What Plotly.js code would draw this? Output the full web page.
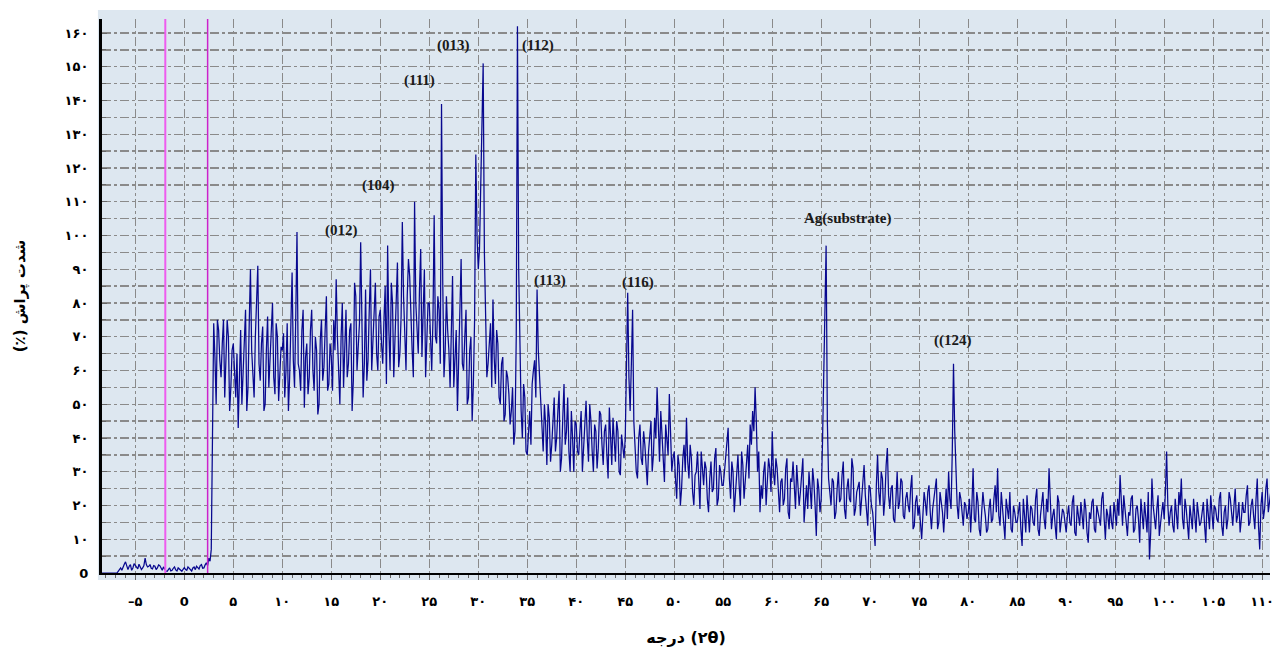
<!DOCTYPE html>
<html>
<head>
<meta charset="utf-8">
<script src="https://cdn.plot.ly/plotly-3.0.1.min.js"></script>
<style>html,body{margin:0;padding:0;background:#fff;}#chart{width:1279px;height:652px;}</style>
</head>
<body>
<div id="chart"></div>
<script>
// Scan grid: 2θ start and step (degrees); each step also has a half-step reading
const twoThetaStart = -8.5;
const twoThetaStep = 0.25;

// Intensity (%) at the full steps, one line per 5° block
const intensity = [
  /* -8.5 .. -5.25 */ 0,0,0,0,0,0,0,0.5,1.5,2,3.3,1,2.5,1.5,
  /* -5 */ 2.2,1.2,2,1.5,4.4,1.8,2.5,1.2,2,1.5,2.2,0.8,1.2,0.5,1.5,0.8,1.8,0.6,1.2,0.5,
  /* 0 */ 1.6,0.8,1.4,0.6,1.8,2,1.2,2.5,1.5,3,4.4,7,74,50,72,58,75,62,70,55,
  /* 5 */ 68,52,43,72,58,78,55,90,60,70,91,57,73,50,76,62,80,53,70,60,
  /* 10 */ 66,52,74,58,89,55,101,60,72,49,68,58,78,54,66,50,75,61,82,56,
  /* 15 */ 64,75,87,58,70,55,78,62,74,57,82,66,98,52,84,63,90,70,86,60,
  /* 20 */ 78,62,85,97,60,80,68,92,65,104,70,82,88,66,110,72,84,64,90,70,
  /* 25 */ 80,60,106,68,78,139,58,82,66,76,55,72,62,93,60,78,52,70,56,124,
  /* 30 */ 90,112,151,70,62,74,81,56,68,50,64,47,58,44,55,42,162,68,40,52,
  /* 35 */ 35,48,56,63,84,58,42,50,32,46,38,52,40,54,34,56,42,36,48,30,
  /* 40 */ 44,35,48,38,51,33,45,30,42,37,47,32,44,28,40,46,33,42,29,38,
  /* 45 */ 40,83,48,78,35,28,44,32,38,26,42,30,46,55,33,40,27,38,53,30,
  /* 50 */ 36,22,32,25,38,46,28,34,20,30,24,36,26,31,18,33,25,37,22,30,
  /* 55 */ 26,34,43,22,30,24,35,20,32,27,38,44,48,55,30,18,22,33,26,31,
  /* 60 */ 42,26,31,18,28,22,34,16,27,23,32,20,29,15,26,30,19,27,11,25,
  /* 65 */ 22,55,97,28,20,27,18,30,22,33,16,28,21,31,19,26,17,29,23,14,
  /* 70 */ 25,18,8,35,20,28,22,37,19,26,15,30,21,27,16,24,18,29,14,23,
  /* 75 */ 20,10,24,17,26,13,22,28,15,21,12,25,30,19,62,28,16,22,14,20,
  /* 80 */ 18,12,31,15,21,11,24,17,13,22,16,26,31,14,20,10,19,24,12,18,
  /* 85 */ 15,21,8,17,23,12,19,14,25,11,20,16,22,31,13,19,10,21,15,18,
  /* 90 */ 12,20,14,23,11,17,21,13,19,9,16,22,12,18,14,24,10,17,20,13,
  /* 95 */ 18,22,29,14,19,11,17,23,13,20,9,16,21,12,4,28,15,19,11,18,
  /* 100 */ 16,36,14,20,12,18,24,28,13,19,10,17,22,12,18,15,21,9,17,23,
  /* 105 */ 13,19,15,24,11,20,16,22,14,25,17,12,21,18,26,15,22,13,28,7,
  /* 110 */ 24,19,28,22
];

// Intensity (%) at the half steps (2θ + 0.125°), same block layout
const intensityHalf = [
  /* -8.375 .. -5.125 */ 0,0,0,0,0,0,0,1,0.8,2.6,1.8,2,0.8,2.8,
  /* -4.875 */ 1.8,2.6,1,2.2,2.5,2,1.4,2.2,1,2.4,1.4,1.8,0.6,1.2,0.6,1.4,0.9,1.5,0.7,1.1,
  /* 0.125 */ 1,1.8,0.7,1.5,1,1.6,2.2,1.4,2.4,2.2,3.5,40,64,75,63,68,52,75,48,66,
  /* 5.125 */ 60,65,58,50,70,48,74,66,52,80,62,68,48,66,55,70,58,74,51,67,
  /* 10.125 */ 71,60,48,70,63,76,62,54,78,64,53,72,60,70,47,69,57,72,54,68,
  /* 15.125 */ 54,66,70,50,80,67,58,72,48,86,60,74,70,62,57,78,60,82,65,76,
  /* 20.125 */ 68,75,56,72,86,58,78,61,76,82,60,93,74,58,80,65,96,74,58,80,
  /* 25.125 */ 66,75,70,82,62,86,66,72,55,88,64,48,80,62,70,50,66,45,75,100,
  /* 30.125 */ 96,128,95,58,70,55,64,72,52,62,45,60,53,48,38,70,90,48,56,36,
  /* 35.125 */ 42,38,60,52,66,48,36,44,50,33,45,36,48,30,46,38,52,30,40,45,
  /* 40.125 */ 36,42,30,46,40,50,36,44,31,48,38,42,35,49,32,37,45,30,41,34,
  /* 45.125 */ 60,58,62,45,30,40,34,42,30,36,45,35,40,42,48,32,44,35,40,34,
  /* 50.125 */ 28,35,20,34,30,33,38,24,29,36,19,30,33,22,28,24,34,20,32,26,
  /* 55.125 */ 30,38,28,33,18,29,26,36,22,33,28,38,42,45,36,26,30,20,34,24,
  /* 60.125 */ 30,34,22,27,20,31,18,28,33,19,26,24,34,22,19,25,31,20,28,18,
  /* 65.125 */ 38,75,45,24,28,16,25,21,29,19,25,22,34,17,24,27,22,32,18,26,
  /* 70.125 */ 20,13,26,24,30,17,32,23,25,16,22,19,28,17,22,20,25,13,21,17,
  /* 75.125 */ 15,17,21,24,18,19,25,13,24,18,20,16,22,36,42,20,24,17,21,16,
  /* 80.125 */ 22,20,16,24,13,18,20,12,19,15,22,18,17,24,14,22,16,13,20,15,
  /* 85.125 */ 19,13,22,12,18,20,15,22,13,17,24,13,18,21,17,14,23,12,19,14,
  /* 90.125 */ 17,15,21,12,20,14,16,22,12,18,21,13,20,15,22,16,19,13,15,21,
  /* 95.125 */ 14,17,20,23,13,18,22,12,19,16,22,13,15,24,12,20,13,23,16,21,
  /* 100.125 */ 24,20,18,14,22,13,20,16,22,14,20,13,18,21,14,19,14,22,13,19,
  /* 105.125 */ 20,16,22,14,18,13,24,18,20,15,21,16,18,23,14,20,17,22,14,20,
  /* 110.125 */ 16,25,18,24
];

// Peak labels
const peakLabels = ['(012)','(104)','(111)','(013)','(112)','(113)','(116)','Ag(substrate)','((124)'];
const peakX = [16.0, 19.8, 24.0, 27.45, 36.1, 37.35, 46.3, 67.75, 78.4];
const peakY = [101.6, 114.7, 145.8, 156.4, 156.4, 86.8, 86.2, 104.9, 69.0];

// Vertical marker lines (2θ)
const markerLines = [-1.94, 2.38];
const markerColors = ['#ee5cee', '#cc22cc'];

// Tick labels (Persian digits)
const xTickAlias = {'-5':'\u2013۵','\u22125':'\u2013۵','0':'0','5':'۵','10':'۱۰','15':'۱۵','20':'۲۰','25':'۲۵','30':'۳۰','35':'۳۵','40':'۴۰','45':'۴۵','50':'۵۰','55':'۵۵','60':'۶۰','65':'۶۵','70':'۷۰','75':'۷۵','80':'۸۰','85':'۸۵','90':'۹۰','95':'۹۵','100':'۱۰۰','105':'۱۰۵','110':'۱۱۰'};
const yTickAlias = {'0':'0','10':'۱۰','20':'۲۰','30':'۳۰','40':'۴۰','50':'۵۰','60':'۶۰','70':'۷۰','80':'۸۰','90':'۹۰','100':'۱۰۰','110':'۱۱۰','120':'۱۲۰','130':'۱۳۰','140':'۱۴۰','150':'۱۵۰','160':'۱۶۰'};

const xTitle = 'درجه (۲θ)';
const yTitle = '\u200Fشدت پراش (٪)\u200F';

// Merge full and half steps into one ordered scan
const twoTheta = [], counts = [];
intensity.forEach((v, i) => {
  const t = twoThetaStart + i * twoThetaStep;
  twoTheta.push(t); counts.push(v);
  twoTheta.push(t + twoThetaStep / 2); counts.push(intensityHalf[i]);
});

const trace = {
  x: twoTheta, y: counts, type: 'scatter', mode: 'lines',
  line: {color: '#08088f', width: 1.25}, hoverinfo: 'skip', cliponaxis: true
};

const gridCol = '#8a8a8a';
const persianFont = {family: 'DejaVu Sans', size: 13, color: '#000', weight: 'bold'};

const shapes = [
  {type: 'rect', xref: 'paper', yref: 'paper', x0: -0.0035, x1: 1, y0: -0.0126, y1: 1.0162,
   fillcolor: '#dde7f0', line: {width: 0}, layer: 'below'}
];
markerLines.forEach((m, k) => shapes.push({
  type: 'line', xref: 'x', yref: 'paper', x0: m, x1: m, y0: 0, y1: 1,
  line: {color: markerColors[k], width: k === 0 ? 2 : 1.5}, layer: 'above'
}));

const annotations = peakLabels.map((t, k) => ({
  x: peakX[k], y: peakY[k], xref: 'x', yref: 'y', text: t, showarrow: false,
  font: {family: 'Liberation Serif', size: 15, color: '#1a1a1a', weight: 'bold'}
}));

const layout = {
  width: 1279, height: 652,
  margin: {l: 102, r: 9, t: 19, b: 79},
  paper_bgcolor: '#ffffff', plot_bgcolor: '#dde7f0',
  showlegend: false,
  xaxis: {
    range: [-8.4, 110.8], tickmode: 'linear', tick0: 0, dtick: 5, labelalias: xTickAlias,
    showgrid: true, gridcolor: gridCol, griddash: 'dashdot', gridwidth: 1.3,
    zeroline: false, showline: true, linecolor: '#000', linewidth: 2,
    ticks: 'outside', ticklen: 5, tickcolor: '#666',
    minor: {tickmode: 'linear', tick0: 0, dtick: 1, ticks: 'outside', ticklen: 3, tickcolor: '#666', showgrid: false},
    tickfont: persianFont, ticklabelstandoff: 10,
    title: {text: xTitle, font: {family: 'DejaVu Sans', size: 16, color: '#000', weight: 'bold'}, standoff: 24}
  },
  yaxis: {
    range: [0, 164.15], tickmode: 'linear', tick0: 0, dtick: 10, labelalias: yTickAlias,
    showgrid: true, gridcolor: gridCol, griddash: 'dashdot', gridwidth: 1.3,
    zeroline: false, showline: true, linecolor: '#000', linewidth: 3,
    ticks: 'inside', ticklen: 5, tickcolor: '#666',
    minor: {tickmode: 'linear', tick0: 0, dtick: 5, ticks: 'inside', ticklen: 4, tickcolor: '#666',
            showgrid: true, gridcolor: gridCol, griddash: 'dashdot', gridwidth: 1.3},
    tickfont: persianFont, ticklabelstandoff: 8,
    title: {text: yTitle, font: {family: 'DejaVu Sans', size: 15, color: '#000', weight: 'bold'}, standoff: 36}
  },
  shapes: shapes,
  annotations: annotations
};

Plotly.newPlot('chart', [trace], layout, {displayModeBar: false, staticPlot: true});
</script>
</body>
</html>
